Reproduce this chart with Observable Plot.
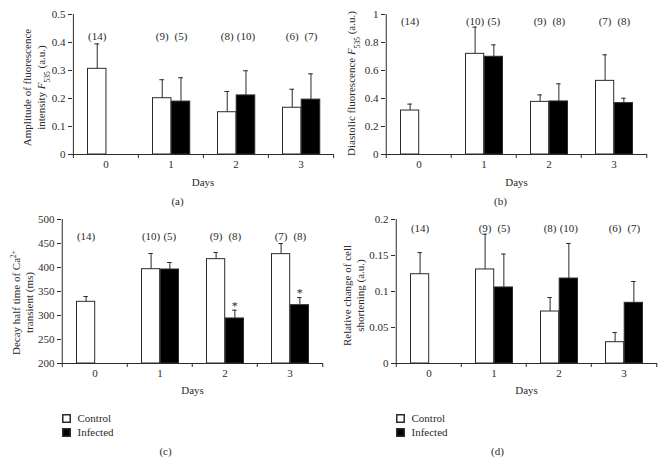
<!DOCTYPE html>
<html><head><meta charset="utf-8">
<script src="https://cdn.jsdelivr.net/npm/d3@7"></script>
<script src="https://cdn.jsdelivr.net/npm/@observablehq/plot@0.6"></script>
<style>
html,body{margin:0;padding:0;background:#fff;}
#fig{position:relative;width:671px;height:461px;overflow:hidden;background:#fff;}
#fig svg{position:absolute;}
</style></head><body><div id="fig"></div>
<script>
// ---- data ----
const days = ["0", "1", "2", "3"];
const seriesNames = ["Control", "Infected"];

// (a) Amplitude of fluorescence intensity
const ampControl = [0.306, 0.201, 0.151, 0.167];
const ampControlErr = [0.089, 0.066, 0.074, 0.066];
const ampInfected = [null, 0.189, 0.211, 0.196];
const ampInfectedErr = [null, 0.085, 0.088, 0.092];
const ampNControl = ["(14)", "(9)", "(8)", "(6)"];
const ampNInfected = [null, "(5)", "(10)", "(7)"];
const ampTicks = [0, 0.1, 0.2, 0.3, 0.4, 0.5];

// (b) Diastolic fluorescence
const diaControl = [0.314, 0.719, 0.376, 0.526];
const diaControlErr = [0.046, 0.191, 0.050, 0.186];
const diaInfected = [null, 0.698, 0.379, 0.367];
const diaInfectedErr = [null, 0.085, 0.126, 0.035];
const diaNControl = ["(14)", "(10)", "(9)", "(7)"];
const diaNInfected = [null, "(5)", "(8)", "(8)"];
const diaTicks = [0, 0.2, 0.4, 0.6, 0.8, 1];

// (c) Decay half time of Ca2+ transient (ms)
const decayControl = [328.5, 396.5, 417.4, 427.8];
const decayControlErr = [11.1, 32.7, 13.9, 22.2];
const decayInfected = [null, 395.8, 293.8, 321.5];
const decayInfectedErr = [null, 14.6, 17.2, 16.0];
const decayNControl = ["(14)", "(10)", "(9)", "(7)"];
const decayNInfected = [null, "(5)", "(8)", "(8)"];
const decaySig = [null, null, "*", "*"];
const decayTicks = [200, 250, 300, 350, 400, 450, 500];

// (d) Relative change of cell shortening
const shortControl = [0.124, 0.1306, 0.0722, 0.0296];
const shortControlErr = [0.030, 0.049, 0.0195, 0.0134];
const shortInfected = [null, 0.1056, 0.118, 0.0843];
const shortInfectedErr = [null, 0.0464, 0.0487, 0.0296];
const shortNControl = ["(14)", "(9)", "(8)", "(6)"];
const shortNInfected = [null, "(5)", "(10)", "(7)"];
const shortTicks = [0, 0.05, 0.1, 0.15, 0.2];

// ---- drawing ----
const FONT = "'Liberation Serif', 'DejaVu Serif', 'Times New Roman', serif";
const INK = "#2b2b2b";
const fmt = d3.format("~g");

function panel(cfg) {
  const {width, height, ml, mr, mt, mb} = cfg;
  const step = (width - ml - mr) / days.length;
  const innerH = height - mt - mb;
  const base = cfg.yDomain[0];
  const rows = (vals, errs, ns, sig) => days.map((day, i) => ({day, v: vals[i], e: errs[i], n: ns[i], s: sig ? sig[i] : null})).filter(d => d.v != null);
  const C = rows(cfg.ctrl, cfg.ctrlErr, cfg.nCtrl, null);
  const I = rows(cfg.inf, cfg.infErr, cfg.nInf, cfg.sig);
  const cA = 14.5, cB = 33.2, iB = 52;
  const cMid = (cA + cB) / 2, iMid = (cB + iB) / 2;
  const err = (R, mid) => [
    Plot.ruleX(R, {x: "day", y1: "v", y2: d => d.v + d.e, dx: mid - step / 2, stroke: INK}),
    Plot.tickY(R, {x: "day", y: d => d.v + d.e, insetLeft: mid - 2.5, insetRight: step - mid - 2.5, stroke: INK})
  ];
  const mid = {textAnchor: "middle", lineAnchor: "middle"};
  const marks = [
    Plot.barY(C, {x: "day", y1: base, y2: "v", fill: "white", stroke: INK, insetLeft: cA, insetRight: step - cB}),
    Plot.barY(I, {x: "day", y1: base, y2: "v", fill: "black", stroke: INK, insetLeft: cB, insetRight: step - iB}),
    ...err(C, cMid),
    ...err(I, iMid),
    Plot.text(C, {x: "day", text: "n", frameAnchor: "top", dy: cfg.countDy, dx: cMid - step / 2, ...mid}),
    Plot.text(I, {x: "day", text: "n", frameAnchor: "top", dy: cfg.countDy, dx: iMid - step / 2, ...mid}),
    Plot.text(I.filter(d => d.s), {x: "day", y: d => d.v + d.e, text: "s", dx: iMid - step / 2, dy: -4, fontSize: 12, ...mid}),
    // axes
    Plot.ruleY([base], {stroke: INK}),
    Plot.ruleX([days[0]], {x: d => d, dx: -step / 2, stroke: INK}),
    Plot.ruleX(days, {x: d => d, dx: -step / 2, insetTop: innerH, insetBottom: -4, stroke: INK}),
    Plot.ruleX([days[days.length - 1]], {x: d => d, dx: step / 2, insetTop: innerH, insetBottom: -4, stroke: INK}),
    Plot.axisY({ticks: cfg.yTicks, tickSize: 4, tickPadding: 3, tickFormat: fmt, label: null, stroke: INK}),
    Plot.axisX({tickSize: 0, tickPadding: 6, label: null}),
    Plot.text([cfg.title], {frameAnchor: "left", rotate: -90, dx: cfg.titleDx, dy: cfg.titleDy, lineHeight: 1.25, ...mid}),
    Plot.text(["Days"], {frameAnchor: "bottom", dy: cfg.daysDy, ...mid}),
    Plot.text([cfg.letter], {frameAnchor: "bottom", dx: cfg.letterDx, dy: cfg.letterDy, ...mid})
  ];
  if (cfg.legend) {
    const colors = ["white", "black"];
    seriesNames.forEach((name, k) => {
      const dy = cfg.legendDy + k * 14;
      marks.push(Plot.dot([name], {frameAnchor: "bottom-left", dx: 5, dy, symbol: "square", r: 4.2, fill: colors[k], stroke: INK}));
      marks.push(Plot.text([name], {frameAnchor: "bottom-left", dx: 16, dy, textAnchor: "start", lineAnchor: "middle"}));
    });
  }
  const svg = Plot.plot({
    width, height, marginLeft: ml, marginRight: mr, marginTop: mt, marginBottom: mb,
    x: {type: "band", domain: days, padding: 0},
    y: {domain: cfg.yDomain},
    style: {fontFamily: FONT, fontSize: "11px", color: INK, background: "transparent", overflow: "visible"},
    marks
  });
  svg.style.left = cfg.left + "px";
  svg.style.top = cfg.top + "px";
  richify(svg);
  return svg;
}

function setRich(node, parts) {
  node.textContent = "";
  for (const [txt, attrs] of parts) {
    if (!txt) continue;
    if (!attrs) { node.appendChild(document.createTextNode(txt)); continue; }
    const t = document.createElementNS("http://www.w3.org/2000/svg", "tspan");
    for (const [k, v] of Object.entries(attrs)) t.setAttribute(k, v);
    t.textContent = txt;
    node.appendChild(t);
  }
}
function richify(svg) {
  const leaves = [...svg.querySelectorAll("text, tspan")].filter(n => n.children.length === 0);
  for (const n of leaves) {
    const t = n.textContent;
    let m;
    if ((m = t.match(/^(.*)F(535)(.*)$/))) {
      setRich(n, [[m[1]], ["F", {"font-style": "italic"}], ["535", {"baseline-shift": "sub", "font-size": "7.5px"}], [m[3]]]);
    } else if ((m = t.match(/^(.*Ca)(2\+)(.*)$/))) {
      setRich(n, [[m[1]], ["2+", {"baseline-shift": "super", "font-size": "7.5px"}], [m[3]]]);
    }
  }
}

const fig = document.getElementById("fig");
fig.appendChild(panel({
  left: 0, top: 0, width: 335, height: 206, ml: 72, mr: 2, mt: 14, mb: 52,
  ctrl: ampControl, ctrlErr: ampControlErr, inf: ampInfected, infErr: ampInfectedErr,
  nCtrl: ampNControl, nInf: ampNInfected, yDomain: [0, 0.5], yTicks: ampTicks,
  title: "Amplitude of fluorescence\nintensity F535 (a.u.)", titleDx: -39, titleDy: 3,
  countDy: 22, daysDy: 28, letter: "(a)", letterDx: -25.5, letterDy: 47
}));
fig.appendChild(panel({
  left: 335, top: 0, width: 336, height: 206, ml: 50, mr: 24, mt: 14, mb: 52,
  ctrl: diaControl, ctrlErr: diaControlErr, inf: diaInfected, infErr: diaInfectedErr,
  nCtrl: diaNControl, nInf: diaNInfected, yDomain: [0, 1], yTicks: diaTicks,
  title: "Diastolic fluorescence F535 (a.u.)", titleDx: -35, titleDy: -1,
  countDy: 7, daysDy: 28, letter: "(b)", letterDx: -16, letterDy: 47
}));
fig.appendChild(panel({
  left: 0, top: 206, width: 335, height: 255, ml: 61, mr: 12, mt: 13, mb: 98,
  ctrl: decayControl, ctrlErr: decayControlErr, inf: decayInfected, infErr: decayInfectedErr,
  nCtrl: decayNControl, nInf: decayNInfected, sig: decaySig, yDomain: [200, 500], yTicks: decayTicks,
  title: "Decay half time of Ca2+\ntransient (ms)", titleDx: -39.5, titleDy: 11,
  countDy: 17, daysDy: 27, letter: "(c)", letterDx: -27, letterDy: 88, legend: true, legendDy: 55
}));
fig.appendChild(panel({
  left: 335, top: 206, width: 336, height: 255, ml: 60, mr: 14, mt: 13, mb: 98,
  ctrl: shortControl, ctrlErr: shortControlErr, inf: shortInfected, infErr: shortInfectedErr,
  nCtrl: shortNControl, nInf: shortNInfected, yDomain: [0, 0.2], yTicks: shortTicks,
  title: "Relative change of cell\nshortening (a.u.)", titleDx: -42.5, titleDy: 4,
  countDy: 9, daysDy: 27, letter: "(d)", letterDx: -29, letterDy: 88, legend: true, legendDy: 55
}));
</script></body></html>
